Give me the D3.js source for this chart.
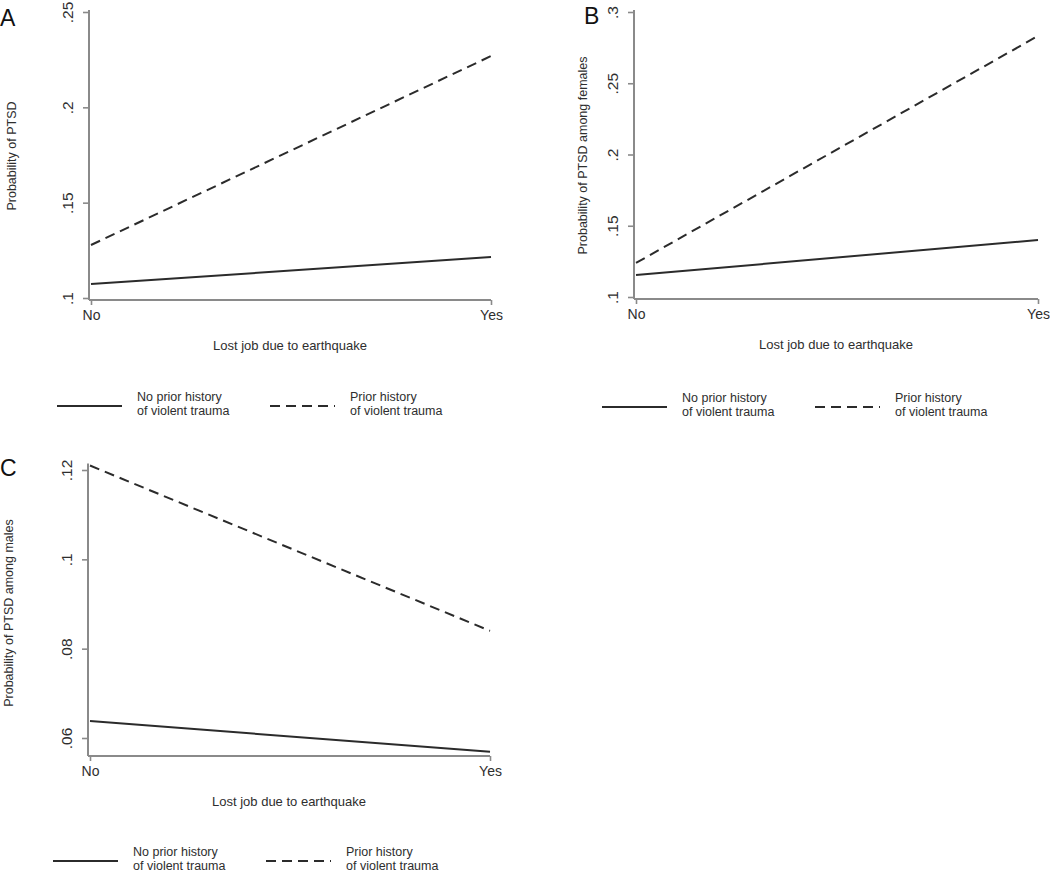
<!DOCTYPE html>
<html><head><meta charset="utf-8">
<script src="https://cdn.jsdelivr.net/npm/d3@7"></script>
<style>
html,body{margin:0;padding:0;background:#fff;}
svg{display:block;font-family:"Liberation Sans",Arial,Helvetica,sans-serif;}
</style></head>
<body><svg id="chart" width="1050" height="873"></svg>
<script>
// ---- data ----
const categories = ["No", "Yes"];
const seriesNames = ["No prior history of violent trauma", "Prior history of violent trauma"];
const panelA_noPrior = [0.1073, 0.1215];
const panelA_prior   = [0.1278, 0.2269];
const panelB_noPrior = [0.1154, 0.1400];
const panelB_prior   = [0.1239, 0.2832];
const panelC_noPrior = [0.0638, 0.0569];
const panelC_prior   = [0.1210, 0.0840];
const ticksA = [0.10, 0.15, 0.20, 0.25];
const ticksB = [0.10, 0.15, 0.20, 0.25, 0.30];
const ticksC = [0.06, 0.08, 0.10, 0.12];
const xTitle = "Lost job due to earthquake";
const yTitles = ["Probability of PTSD", "Probability of PTSD among females", "Probability of PTSD among males"];
const panelLetters = ["A", "B", "C"];

// ---- layout ----
const panels = [
  {letter: panelLetters[0], yTitle: yTitles[0], no: panelA_noPrior, pr: panelA_prior, ticks: ticksA,
   axX: 89, x0: 91, x1: 491, yHi: 12, yLo: 298, axY: 300, ttlX: 12, letterX: 0, letterY: 26,
   legY: 406, legX: 57},
  {letter: panelLetters[1], yTitle: yTitles[1], no: panelB_noPrior, pr: panelB_prior, ticks: ticksB,
   axX: 634, x0: 636, x1: 1038, yHi: 12, yLo: 297, axY: 299, ttlX: 583, letterX: 584, letterY: 24,
   legY: 407, legX: 602},
  {letter: panelLetters[2], yTitle: yTitles[2], no: panelC_noPrior, pr: panelC_prior, ticks: ticksC,
   axX: 88, x0: 90, x1: 490, yHi: 470, yLo: 738, axY: 756, ttlX: 9, letterX: 0, letterY: 476,
   legY: 861, legX: 53}
];

const svg = d3.select("#chart");
const fmt = v => d3.format(".2~f")(v).replace(/^0\./, ".");
const lineCol = "#2b2b2b", axisCol = "#8a8a8a", textCol = "#2e2e2e";

panels.forEach(p => {
  const g = svg.append("g");
  const y = d3.scaleLinear().domain([p.ticks[0], p.ticks[p.ticks.length - 1]]).range([p.yLo, p.yHi]);
  const x = d3.scalePoint().domain(categories).range([p.x0, p.x1]);
  const axTop = Math.min(p.yHi, y(d3.max(p.pr.concat(p.no))));

  // y axis
  const ya = g.append("g").attr("transform", `translate(${p.axX},0)`)
    .call(d3.axisLeft(y).tickValues(p.ticks).tickFormat(fmt).tickSize(6).tickSizeOuter(0));
  ya.select(".domain").remove();
  ya.append("line").attr("x1", 0).attr("x2", 0).attr("y1", axTop - 2).attr("y2", p.axY)
    .attr("stroke", axisCol).attr("stroke-width", 2);
  ya.selectAll(".tick line").attr("stroke", axisCol).attr("stroke-width", 1.6);
  ya.selectAll(".tick text").attr("x", 0).attr("y", -16).attr("dy", 0)
    .attr("transform", "rotate(-90)").attr("text-anchor", "middle")
    .attr("fill", textCol).attr("font-size", 15.5).attr("font-family", null);

  // x axis
  const xa = g.append("g").attr("transform", `translate(0,${p.axY})`)
    .call(d3.axisBottom(x).tickSize(5).tickSizeOuter(0));
  xa.select(".domain").remove();
  xa.append("line").attr("x1", p.axX).attr("x2", p.x1).attr("y1", 0).attr("y2", 0)
    .attr("stroke", axisCol).attr("stroke-width", 2);
  xa.selectAll(".tick line").attr("stroke", axisCol).attr("stroke-width", 1.6);
  xa.selectAll(".tick text").attr("y", 10).attr("dy", "0.71em")
    .attr("fill", textCol).attr("font-size", 14).attr("font-family", null);

  // titles
  g.append("text").attr("x", (p.axX + p.x1) / 2).attr("y", p.axY + 50)
    .attr("text-anchor", "middle").attr("font-size", 13).attr("fill", textCol).text(xTitle);
  g.append("text").attr("transform", `translate(${p.ttlX + 4},${(p.yHi + p.axY) / 2}) rotate(-90)`)
    .attr("text-anchor", "middle").attr("font-size", 12.5).attr("fill", textCol).text(p.yTitle);
  g.append("text").attr("x", p.letterX).attr("y", p.letterY).attr("font-size", 23)
    .attr("fill", "#111").text(p.letter);

  // lines
  const ln = d3.line().x((d, i) => x(categories[i])).y(d => y(d));
  g.append("path").datum(p.no).attr("d", ln).attr("fill", "none")
    .attr("stroke", lineCol).attr("stroke-width", 2);
  g.append("path").datum(p.pr).attr("d", ln).attr("fill", "none")
    .attr("stroke", lineCol).attr("stroke-width", 2).attr("stroke-dasharray", "10,6");

  // legend
  const leg = g.append("g").attr("transform", `translate(${p.legX},${p.legY})`);
  const items = [{name: seriesNames[0], dash: null, dx: 0}, {name: seriesNames[1], dash: "10,6", dx: 213}];
  items.forEach(it => {
    leg.append("line").attr("x1", it.dx).attr("x2", it.dx + 65).attr("y1", 0).attr("y2", 0)
      .attr("stroke", lineCol).attr("stroke-width", 2).attr("stroke-dasharray", it.dash);
    const words = it.name.split(" of ");
    const t = leg.append("text").attr("x", it.dx + 80).attr("y", -5).attr("font-size", 12.5).attr("fill", textCol);
    t.append("tspan").attr("x", it.dx + 80).attr("dy", 0).text(words[0]);
    t.append("tspan").attr("x", it.dx + 80).attr("dy", 14).text("of " + words[1]);
  });
});
</script></body></html>
